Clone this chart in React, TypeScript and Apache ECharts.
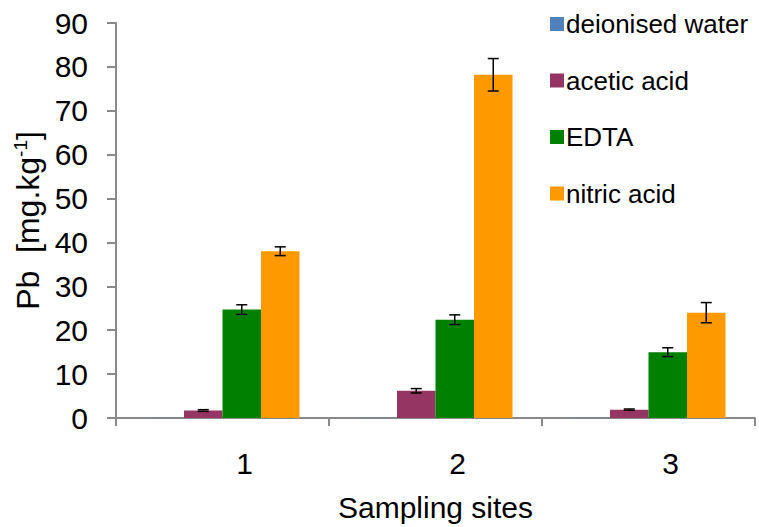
import React, { useEffect, useRef } from "react";
import * as echarts from "echarts";

const categories = ["1", "2", "3"];
const seriesNames = ["deionised water", "acetic acid", "EDTA", "nitric acid"];
const deionisedWater = [0.05, 0.05, 0.05];
const aceticAcid = [1.7, 6.2, 1.9];
const edta = [24.7, 22.4, 15.0];
const nitricAcid = [38.0, 78.2, 24.0];
const deionisedErr = [0, 0, 0];
const aceticErr = [0.2, 0.5, 0.15];
const edtaErr = [1.1, 1.1, 1.0];
const nitricErr = [1.0, 3.7, 2.3];
const yTicks = [0, 10, 20, 30, 40, 50, 60, 70, 80, 90];

const colors = ["#4F81BD", "#953564", "#008000", "#FF9900"];
const FONT = "Liberation Sans, Arial, sans-serif";
const GAP = 0.277;

export default function App() {
  const ref = useRef<HTMLDivElement>(null);
  useEffect(() => {
    const chart = echarts.init(ref.current!, null, { renderer: "svg" });
    const values = [deionisedWater, aceticAcid, edta, nitricAcid];
    const errs = [deionisedErr, aceticErr, edtaErr, nitricErr];
    const barSeries = seriesNames.map((name, i) => ({
      name,
      type: "bar",
      data: values[i],
      barGap: "0%",
      barCategoryGap: GAP * 100 + "%",
      itemStyle: { color: colors[i] },
      emphasis: { disabled: true },
    }));
    const errSeries = seriesNames.map((name, i) => ({
      type: "custom",
      name: name + "-err",
      data: values[i].map((v, k) => [k, v, errs[i][k]]),
      encode: { x: 0, y: 1 },
      z: 10,
      silent: true,
      renderItem: (params: any, api: any) => {
        const x = api.value(0);
        const v = api.value(1);
        const e = api.value(2);
        if (!e) return { type: "group", children: [] };
        const top = api.coord([x, v + e]);
        const bot = api.coord([x, v - e]);
        const catW = api.size([1, 0])[0];
        const bw = (catW * (1 - GAP)) / 4;
        const cx = top[0] - 2 * bw + bw * (i + 0.5);
        const cap = 5.5;
        const style = { stroke: "#000", lineWidth: 1.5 };
        return {
          type: "group",
          children: [
            { type: "line", shape: { x1: cx, y1: top[1], x2: cx, y2: bot[1] }, style },
            { type: "line", shape: { x1: cx - cap, y1: top[1], x2: cx + cap, y2: top[1] }, style },
            { type: "line", shape: { x1: cx - cap, y1: bot[1], x2: cx + cap, y2: bot[1] }, style },
          ],
        };
      },
    }));
    chart.setOption({
      animation: false,
      textStyle: { fontFamily: FONT },
      grid: { left: 116, right: 4, top: 23, bottom: 101, containLabel: false },
      legend: {
        data: seriesNames,
        orient: "vertical",
        left: 545,
        top: 6,
        icon: "rect",
        itemWidth: 14,
        itemHeight: 14,
        itemGap: 30.5,
        textStyle: { fontSize: 26, color: "#000", fontFamily: FONT, lineHeight: 26, padding: [0, 0, 0, -3] },
      },
      xAxis: {
        type: "category",
        data: categories,
        name: "Sampling sites",
        nameLocation: "middle",
        nameGap: 74,
        nameTextStyle: { fontSize: 30, color: "#000", fontFamily: FONT },
        axisLine: { lineStyle: { color: "#898989", width: 2 } },
        axisTick: { show: true, length: 8, lineStyle: { color: "#898989", width: 2 } },
        axisLabel: { fontSize: 30, color: "#000", margin: 30, fontFamily: FONT, padding: [0, 0, 0, 44] },
      },
      yAxis: {
        type: "value",
        min: 0,
        max: 90,
        interval: 10,
        name: "Pb  [mg.kg{sup|-1}]",
        nameLocation: "middle",
        nameGap: 70,
        nameRotate: 90,
        nameTextStyle: {
          fontSize: 32,
          color: "#000",
          fontFamily: FONT,
          rich: { sup: { fontSize: 19, color: "#000", fontFamily: FONT, verticalAlign: "top", padding: [0, 0, 14, 0] } },
        },
        splitLine: { show: false },
        axisLine: { show: true, lineStyle: { color: "#898989", width: 2 } },
        axisTick: { show: true, length: 9, lineStyle: { color: "#898989", width: 2 } },
        axisLabel: {
          fontSize: 30,
          color: "#000",
          margin: 28,
          fontFamily: FONT,
          formatter: (v: number) => (yTicks.includes(v) ? String(v) : ""),
        },
      },
      series: [...barSeries, ...errSeries],
    });
    return () => chart.dispose();
  }, []);
  return <div ref={ref} style={{ width: 759, height: 527, position: "absolute", left: 0, top: 0, background: "#fff" }} />;
}
